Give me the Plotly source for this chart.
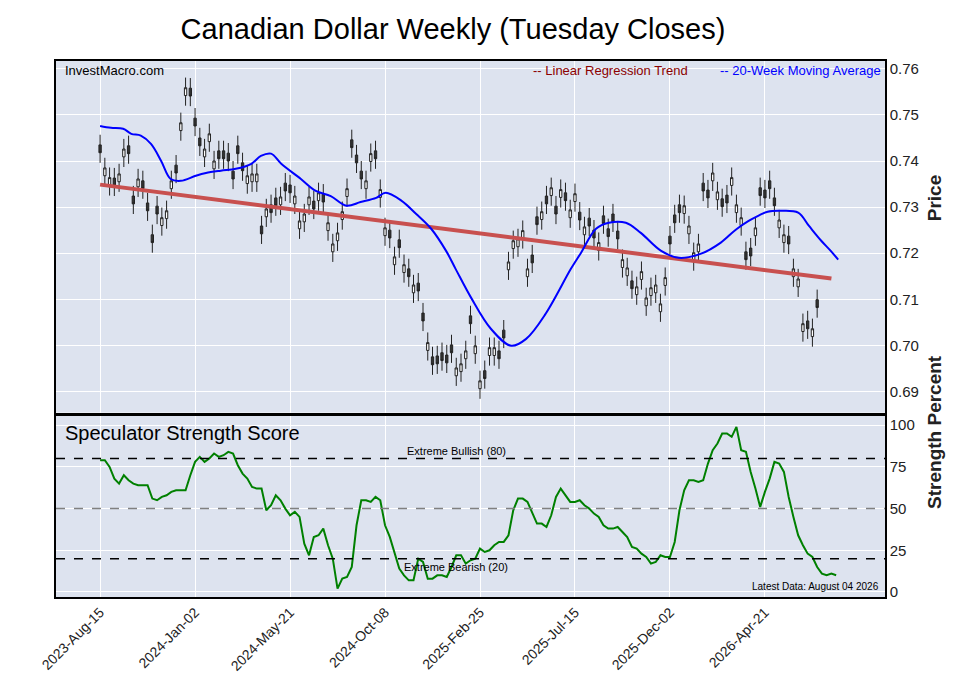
import numpy as np
import pandas as pd
import plotly.graph_objects as go
from plotly.subplots import make_subplots

start = pd.Timestamp("2023-08-15")

# weekly closes (Tuesday)
closes = [
    0.7418, 0.7385, 0.7364, 0.7346, 0.7372, 0.7426, 0.7416, 0.7307, 0.7361, 0.7340,
    0.7292, 0.7223, 0.7285, 0.7277, 0.7292, 0.7357, 0.7374, 0.7483, 0.7559, 0.7541,
    0.7476, 0.7433, 0.7426, 0.7459, 0.7400, 0.7405, 0.7405, 0.7400, 0.7361, 0.7416,
    0.7379, 0.7368, 0.7372, 0.7372, 0.7242, 0.7296, 0.7288, 0.7303, 0.7322, 0.7335,
    0.7331, 0.7324, 0.7270, 0.7285, 0.7322, 0.7296, 0.7331, 0.7311, 0.7266, 0.7220,
    0.7244, 0.7290, 0.7340, 0.7429, 0.7396, 0.7361, 0.7357, 0.7416, 0.7405, 0.7338,
    0.7255, 0.7233, 0.7192, 0.7212, 0.7175, 0.7149, 0.7131, 0.7118, 0.7053, 0.7006,
    0.6958, 0.6960, 0.6967, 0.6962, 0.6984, 0.6951, 0.6960, 0.6988, 0.7047,
    0.6999, 0.6923, 0.6928, 0.6995, 0.6995, 0.6971, 0.7016, 0.7181, 0.7227, 0.7231,
    0.7249, 0.7166, 0.7179, 0.7262, 0.7290, 0.7307, 0.7342, 0.7285, 0.7338, 0.7314,
    0.7294, 0.7329, 0.7272, 0.7257, 0.7259, 0.7233, 0.7223, 0.7264, 0.7236, 0.7268,
    0.7231, 0.7186, 0.7168, 0.7123, 0.7127, 0.7160, 0.7103, 0.7125, 0.7131, 0.7090,
    0.7147, 0.7220, 0.7266, 0.7288, 0.7303, 0.7259, 0.7201, 0.7220, 0.7335, 0.7320,
    0.7374, 0.7333, 0.7301, 0.7309, 0.7364, 0.7305, 0.7277, 0.7186, 0.7194, 0.7255,
    0.7325, 0.7320, 0.7340, 0.7303, 0.7272, 0.7240, 0.7220, 0.7166, 0.7144, 0.7047,
    0.7036, 0.7036, 0.7082, 0.7090, 0.7082, 0.7110,
]
# U = white (up) candle, D = dark (down) candle
direction = (
    "DUUDUUDDUDDDDUUUD" "UUDDDUUUDDDDDDUUUDUDDU"
    "DDUUUUDUDUUUUUDDDUUDUUDUDUDUDDUDDDDDUUU"
    "DUUDUUDDUUUUUDDUDUDUDUUDUDDUDDDDUUDUUU"
    "UUUUDDDUUUUDDUUDDUUUDDUDDDDUUDUUUDUD"
)

# 20-week moving average, sampled (week index, value)
ma_weeks = [0, 2.3, 4.8, 6.5, 8.6, 10.7, 12.8, 14.9, 17, 20.2, 22.3, 25.5, 28.6, 31.8,
            33.9, 36, 38.1, 42.3, 45.5, 48.6, 51.8, 54.9, 58.1, 60.2, 63.4, 66.5, 69.7,
            72.8, 74.9, 78.1, 82.3, 86.5, 89.7, 93.9, 99.2, 101.3, 104.4, 107.2, 110.7,
            113.9, 118.1, 121.9, 126.5, 130.7, 133.9, 136.6, 138.5, 140.6, 143.4, 147,
            149.3, 151.8, 153.9, 155.5]
ma_values = [0.7476, 0.7472, 0.7470, 0.7459, 0.7455, 0.7437, 0.7400, 0.7361, 0.7357,
             0.7368, 0.7374, 0.7379, 0.7383, 0.7394, 0.7411, 0.7416, 0.7394, 0.7361,
             0.7335, 0.7324, 0.7303, 0.7311, 0.7320, 0.7331, 0.7314, 0.7285, 0.7253,
             0.7205, 0.7166, 0.7103, 0.7036, 0.6999, 0.7014, 0.7069, 0.7166, 0.7201,
             0.7253, 0.7266, 0.7266, 0.7244, 0.7205, 0.7190, 0.7199, 0.7223, 0.7251,
             0.7270, 0.7281, 0.7290, 0.7292, 0.7288, 0.7259, 0.7227, 0.7205, 0.7186]

# speculator strength score (weekly)
strength = [
    79, 79, 75, 68, 65, 70, 67, 65, 64, 64, 64, 56, 55, 57, 58, 60, 61, 61, 61, 70,
    78, 81, 78, 80, 83, 81, 82, 84, 83, 76, 71, 68, 63, 62, 62, 49, 52, 58, 55, 50,
    46, 48, 45, 29, 22, 33, 34, 38, 28, 20, 2, 8, 9, 15, 40, 55, 55, 54, 57, 55,
    40, 33, 24, 14, 10, 7, 7, 20, 18, 8, 8, 10, 10, 9, 15, 22, 22, 17, 19, 20,
    26, 24, 25, 28, 30, 30, 34, 49, 56, 56, 54, 47, 41, 41, 39, 46, 57, 62, 58, 54,
    54, 55, 52, 50, 47, 45, 40, 38, 38, 39, 36, 33, 27, 26, 23, 21, 17, 18, 22, 21,
    21, 30, 49, 61, 67, 67, 66, 67, 77, 85, 89, 95, 95, 93, 99, 85, 84, 72, 62, 51,
    60, 68, 78, 77, 72, 57, 45, 34, 28, 23, 21, 15, 11, 10, 11, 10,
]

tick_labels = ["2023-Aug-15", "2024-Jan-02", "2024-May-21", "2024-Oct-08",
               "2025-Feb-25", "2025-Jul-15", "2025-Dec-02", "2026-Apr-21"]
tick_dates = [start + pd.Timedelta(weeks=20 * i) for i in range(len(tick_labels))]

dates = [start + pd.Timedelta(weeks=i) for i in range(len(closes))]
body = 0.0017
wick = 0.0022
opens = [c - body if d == "U" else c + body for c, d in zip(closes, direction)]
highs = [max(o, c) + wick for o, c in zip(opens, closes)]
lows = [min(o, c) - wick for o, c in zip(opens, closes)]

ma_dates = [start + pd.Timedelta(days=round(w * 7)) for w in ma_weeks]
idx = np.arange(len(closes))
slope, icpt = np.polyfit(idx, closes, 1)
reg = icpt + slope * idx
s_dates = [start + pd.Timedelta(weeks=i) for i in range(len(strength))]

fig = make_subplots(rows=2, cols=1, shared_xaxes=True, vertical_spacing=0.006,
                    row_heights=[0.66, 0.34])

fig.add_trace(go.Scatter(x=dates, y=reg, mode="lines",
                         line=dict(color="#c8504f", width=4)), row=1, col=1)
fig.add_trace(go.Candlestick(
    x=dates, open=opens, high=highs, low=lows, close=closes,
    increasing=dict(fillcolor="white", line=dict(color="#222", width=1)),
    decreasing=dict(fillcolor="#333", line=dict(color="#222", width=1)),
    whiskerwidth=0), row=1, col=1)
fig.add_trace(go.Scatter(x=ma_dates, y=ma_values, mode="lines", line_shape="spline",
                         line=dict(color="blue", width=2)), row=1, col=1)

fig.add_trace(go.Scatter(x=s_dates, y=strength, mode="lines",
                         line=dict(color="green", width=2)), row=2, col=1)
for lvl, col in [(80, "black"), (50, "grey"), (20, "black")]:
    fig.add_hline(y=lvl, line=dict(color=col, width=1.5, dash="dash"), row=2, col=1)

x0 = start - pd.Timedelta(days=65)
x1 = start + pd.Timedelta(days=1157)
ax = dict(showline=True, linecolor="black", linewidth=1.5, mirror=True,
          gridcolor="white", zeroline=False)
fig.update_xaxes(range=[x0, x1], tickvals=tick_dates, ticktext=tick_labels,
                 rangeslider_visible=False, **ax)
fig.update_xaxes(tickangle=-45, tickfont=dict(size=14, color="#222"), row=2, col=1)
fig.update_yaxes(side="right", automargin=False, **ax)
fig.update_yaxes(range=[0.6854, 0.7617], tickvals=[0.69, 0.70, 0.71, 0.72, 0.73, 0.74, 0.75, 0.76],
                 tickformat=".2f", tickfont=dict(size=15, color="#222"), row=1, col=1)
fig.update_yaxes(range=[-3, 105.6], tickvals=[0, 25, 50, 75, 100],
                 tickfont=dict(size=15, color="#222"), row=2, col=1)

fig.update_layout(
    width=957, height=694, showlegend=False,
    paper_bgcolor="white", plot_bgcolor="#dde3ef",
    margin=dict(l=48, r=80, t=53, b=105, autoexpand=False),
    font=dict(family="Liberation Sans, Arial, sans-serif"),
    title=dict(text="Canadian Dollar Weekly (Tuesday Closes)", x=0.465, y=0.985,
               xanchor="center", font=dict(size=29, color="black")),
    annotations=[
        dict(text="<b>Price</b>", xref="paper", yref="paper", x=1.075, y=0.79,
             textangle=-90, showarrow=False, font=dict(size=19, color="#222")),
        dict(text="<b>Strength Percent</b>", xref="paper", yref="paper", x=1.075, y=0.16,
             textangle=-90, showarrow=False, font=dict(size=19, color="#222")),
        dict(text="InvestMacro.com", xref="paper", yref="paper", x=0.008, y=1.0,
             xanchor="left", yanchor="top", showarrow=False, font=dict(size=13, color="black")),
        dict(text="-- Linear Regression Trend", xref="paper", yref="paper", x=0.765, y=1.0,
             xanchor="right", yanchor="top", showarrow=False, font=dict(size=13, color="darkred")),
        dict(text="-- 20-Week Moving Average", xref="paper", yref="paper", x=0.998, y=1.0,
             xanchor="right", yanchor="top", showarrow=False, font=dict(size=13, color="blue")),
        dict(text="Speculator Strength Score", xref="paper", yref="paper", x=0.008, y=0.33,
             xanchor="left", yanchor="top", showarrow=False, font=dict(size=20, color="black")),
        dict(text="Extreme Bullish (80)", xref="x2", yref="y2", x=start + pd.Timedelta(weeks=75),
             y=80, yanchor="bottom", showarrow=False, font=dict(size=11, color="black")),
        dict(text="Extreme Bearish (20)", xref="x2", yref="y2", x=start + pd.Timedelta(weeks=75),
             y=20, yanchor="top", showarrow=False, font=dict(size=11, color="black")),
        dict(text="Latest Data: August 04 2026", xref="paper", yref="paper", x=0.995, y=0.005,
             xanchor="right", yanchor="bottom", showarrow=False, font=dict(size=10, color="black")),
    ],
)

fig.write_html("out.html")
